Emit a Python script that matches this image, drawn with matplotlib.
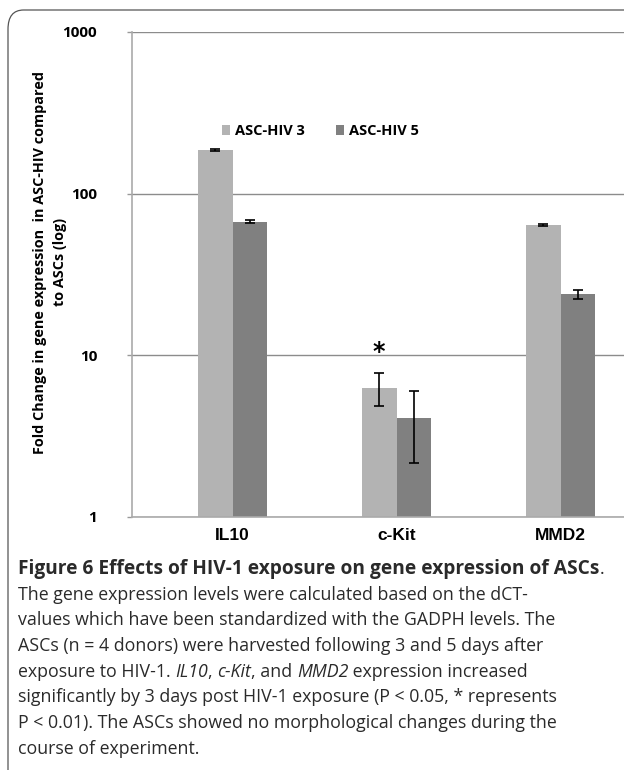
import numpy as np
import matplotlib.pyplot as plt
from matplotlib.patches import FancyBboxPatch

# data
genes = ["IL10", "c-Kit", "MMD2"]
hiv3 = [186, 6.3, 64]
hiv3_err = [2.0, 1.45, 1.0]
hiv5 = [67, 4.1, 23.8]
hiv5_err = [1.5, 1.95, 1.5]
yticks = [1, 10, 100, 1000]

W, H = 624, 770
fig = plt.figure(figsize=(W / 100, H / 100), dpi=100, facecolor="w")

def fx(px):
    return px / W

def fy(py):
    return 1 - py / H

# rounded frame around the figure panel
frame = FancyBboxPatch((fx(8), fy(800)), fx(700), 790 / H,
                       boxstyle="round,pad=0,rounding_size=0.025",
                       transform=fig.transFigure, fc="none", ec="#555555", lw=0.9)
fig.patches.append(frame)

ax = fig.add_axes([fx(132), fy(517), 1 - fx(132), (517 - 32) / H])
x = np.arange(len(genes))
w = 0.213
light, dark = "#b3b3b3", "#808080"
ax.bar(x - w / 2, hiv3, w, color=light, label="ASC-HIV 3", zorder=2,
       yerr=hiv3_err, error_kw=dict(ecolor="black", elinewidth=1.2, capsize=3.5, capthick=1.2))
ax.bar(x + w / 2, hiv5, w, color=dark, label="ASC-HIV 5", zorder=2,
       yerr=hiv5_err, error_kw=dict(ecolor="black", elinewidth=1.2, capsize=3.5, capthick=1.2))

ax.set_yscale("log")
ax.set_ylim(1, 1000)
ax.set_xlim(-0.613, 2.387)
ax.set_yticks(yticks)
ax.set_yticklabels([str(t) for t in yticks], fontweight="bold", fontsize=11, family="Open Sans")
ax.minorticks_off()
ax.set_xticks(x)
ax.set_xticklabels(genes, fontweight="bold", fontsize=12.5, family="Liberation Sans")
ax.tick_params(axis="x", length=0, pad=8)
ax.tick_params(axis="y", length=3.6, color="#999999", width=1, pad=21.5)
ax.grid(axis="y", color="#8c8c8c", lw=1, zorder=0)
for s in ("top", "right"):
    ax.spines[s].set_visible(False)
for s in ("left", "bottom"):
    ax.spines[s].set_color("#aaaaaa")
    ax.spines[s].set_linewidth(1.2)

ax.text(x[1] - w / 2, 12.4, "*", ha="center", va="top", fontsize=17, fontweight="bold")

leg = ax.legend(loc="center left", bbox_to_anchor=(fx(209 - 132) / (1 - fx(132)), (517 - 131) / 485),
                ncol=2, frameon=False, handlelength=0.55, handleheight=0.7, handletextpad=0.3,
                columnspacing=2.2, prop=dict(weight="bold", size=10.5, family="Open Sans"))

fig.text(fx(50), fy(262), "Fold Change in gene expression  in ASC-HIV compared\nto ASCs (log)",
         rotation=90, ha="center", va="center", fontsize=10.4, fontweight="bold",
         family="Open Sans", multialignment="center", linespacing=1.6)

# caption, written run by run so italics and bold can mix
renderer = fig.canvas.get_renderer()

def runs(line, px, py, size=12.8):
    cx = fx(px)
    for txt, style, weight in line:
        sz = 13.8 if weight == "bold" else size
        t = fig.text(cx, fy(py), txt, fontsize=sz, family="Open Sans", style=style,
                     fontweight=weight, va="baseline", ha="left", color="#2a2a2a")
        bb = t.get_window_extent(renderer)
        cx += bb.width / fig.bbox.width

N = "normal"
caption = [
    [("Figure 6 Effects of HIV-1 exposure on gene expression of ASCs", N, "bold"), (".", N, N)],
    [("The gene expression levels were calculated based on the dCT-", N, N)],
    [("values which have been standardized with the GADPH levels. The", N, N)],
    [("ASCs (n = 4 donors) were harvested following 3 and 5 days after", N, N)],
    [("exposure to HIV-1. ", N, N), ("IL10", "italic", N), (", ", N, N), ("c-Kit", "italic", N),
     (", and ", N, N), ("MMD2", "italic", N), (" expression increased", N, N)],
    [("significantly by 3 days post HIV-1 exposure (P < 0.05, * represents", N, N)],
    [("P < 0.01). The ASCs showed no morphological changes during the", N, N)],
    [("course of experiment.", N, N)],
]
for i, line in enumerate(caption):
    runs(line, 18, 574 + i * 25.7)

fig.savefig("out.png", dpi=100)
